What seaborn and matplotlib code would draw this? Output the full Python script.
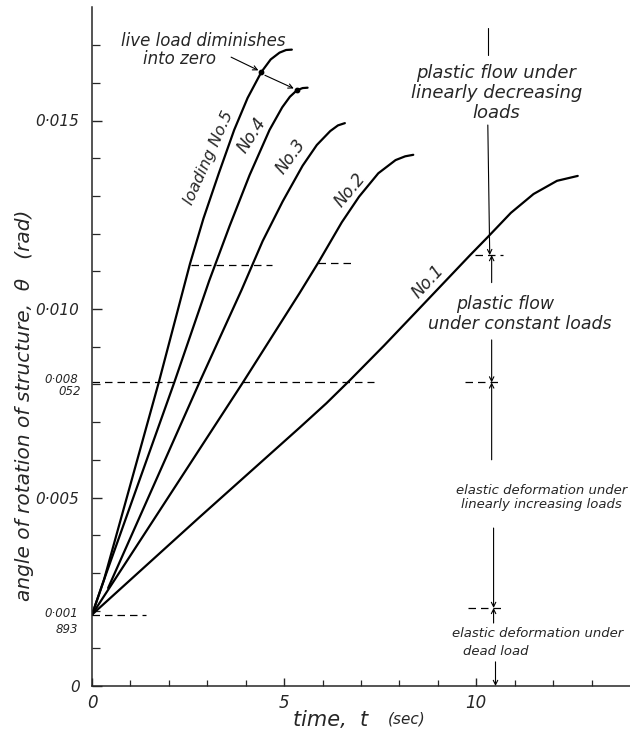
import numpy as np
import pandas as pd
import matplotlib
matplotlib.use("Agg")
import matplotlib.pyplot as plt
import seaborn as sns

# --- data: time t (sec), rotation theta (x 1e-3 rad) ---
no1_t = [0, 2.8, 5.4, 6.1, 6.7, 7.6, 8.46, 9.84, 10.31, 10.9, 11.49, 12.1, 12.64]
no1_theta = [1.893, 4.48, 6.85, 7.5, 8.1, 9.03, 9.95, 11.43, 11.92, 12.55, 13.05, 13.4, 13.53]
no2_t = [0, 3.92, 5.4, 5.9, 6.5, 6.95, 7.45, 7.9, 8.15, 8.36]
no2_theta = [1.893, 8.04, 10.42, 11.25, 12.3, 12.98, 13.6, 13.95, 14.05, 14.09]
no3_t = [0.42, 2.79, 3.89, 4.44, 4.96, 5.48, 5.85, 6.2, 6.4, 6.58]
no3_theta = [2.6, 8.04, 10.5, 11.8, 12.85, 13.8, 14.35, 14.72, 14.87, 14.93]
no4_t = [0, 0.31, 2.14, 3.05, 3.58, 4.1, 4.62, 4.95, 5.15, 5.33, 5.48, 5.61]
no4_theta = [1.893, 2.81, 8.05, 10.75, 12.2, 13.55, 14.75, 15.35, 15.63, 15.8, 15.86, 15.87]
no5_t = [0, 0.31, 1.75, 2.55, 2.9, 3.3, 3.7, 4.05, 4.41, 4.65, 4.88, 5.05, 5.2]
no5_theta = [1.893, 2.81, 8.1, 11.2, 12.4, 13.6, 14.75, 15.6, 16.29, 16.62, 16.8, 16.87, 16.88]

loadings = ["No.1", "No.2", "No.3", "No.4", "No.5"]

# points where the live load has gone to zero (No.5, No.4)
zero_t = [4.41, 5.33]
zero_theta = [16.29, 15.8]

# dashed guide lines: level, start, end
dash_y = [1.893, 8.052, 8.052, 11.17, 11.22, 11.43, 2.07]
dash_x0 = [0, 0, 9.7, 2.58, 5.87, 9.97, 9.79]
dash_x1 = [1.4, 7.35, 10.6, 4.68, 6.8, 10.7, 10.68]

ytick_vals = [0, 5, 10, 15]
ytick_labels = ["0", "0·005", "0·010", "0·015"]
xtick_vals = [0, 5, 10]
xtick_labels = ["0", "5", "10"]

# --- build long table ---
series = [(no1_t, no1_theta), (no2_t, no2_theta), (no3_t, no3_theta),
          (no4_t, no4_theta), (no5_t, no5_theta)]
rows = []
for name, (ts, ths) in zip(loadings, series):
    for t, th in zip(ts, ths):
        rows.append({"t": t, "theta": th * 1e-3, "loading": name})
df = pd.DataFrame(rows)

sns.set_style("ticks")
plt.rcParams["font.family"] = ["DejaVu Sans"]
plt.rcParams["font.style"] = "italic"

fig = plt.figure(figsize=(6.3, 7.32), dpi=100)
ax = fig.add_axes([92 / 630, 46 / 732, 538 / 630, 678.6 / 732])

sns.lineplot(data=df, x="t", y="theta", hue="loading", units="loading",
             estimator=None, sort=False, palette=["black"] * 5,
             legend=False, lw=1.6, ax=ax)

ax.set_xlim(0, 14)
ax.set_ylim(0, 0.018)
sns.despine(ax=ax)
for s in ["left", "bottom"]:
    ax.spines[s].set_linewidth(1.1)

# ticks
ax.set_xticks(xtick_vals)
ax.set_xticklabels(xtick_labels)
ax.set_xticks([i for i in range(1, 14) if i not in xtick_vals], minor=True)
ax.set_yticks([v * 1e-3 for v in ytick_vals])
ax.set_yticklabels(ytick_labels)
ax.set_yticks([i * 1e-3 for i in range(1, 18) if i not in ytick_vals], minor=True)
ax.tick_params(axis="x", which="major", direction="in", length=6, width=1,
               pad=6, labelsize=12)
ax.tick_params(axis="x", which="minor", direction="in", length=4, width=0.9)
ax.tick_params(axis="y", which="major", direction="in", length=7, width=1,
               pad=9, labelsize=11)
ax.tick_params(axis="y", which="minor", direction="in", length=6, width=0.9)
ax.set_xlabel("")
ax.set_ylabel("angle of rotation of structure,  θ   (rad)", fontsize=14.5)
ax.yaxis.set_label_coords(-0.108, 0.414)

# split tick labels for the two special levels
ytr = ax.get_yaxis_transform()
ax.text(-0.026, 1.893e-3 + 0.00003, "0·001", transform=ytr, ha="right",
        va="center", fontsize=8.5)
ax.text(-0.026, 1.893e-3 - 0.00039, "893", transform=ytr, ha="right",
        va="center", fontsize=8.5)
ax.text(-0.026, 8.12e-3, "0·008", transform=ytr, ha="right",
        va="center", fontsize=8.5)
ax.text(-0.02, 7.8e-3, "052", transform=ytr, ha="right",
        va="center", fontsize=8.5)

# x axis label
ax.text(6.2, -0.9e-3, "time,  t", ha="center", va="center", fontsize=15,
        clip_on=False)
ax.text(8.18, -0.88e-3, "(sec)", ha="center", va="center", fontsize=11,
        clip_on=False)

# dashed guides
for y, x0, x1 in zip(dash_y, dash_x0, dash_x1):
    ax.plot([x0, x1], [y * 1e-3, y * 1e-3], color="black", lw=0.9,
            ls=(0, (6, 4)))

# curve labels
ax.text(3.04, 14.0e-3, "loading No.5", rotation=66, ha="center",
        va="center", fontsize=11.5)
ax.text(4.16, 14.6e-3, "No.4", rotation=57, ha="center", va="center",
        fontsize=12)
ax.text(5.17, 14.05e-3, "No.3", rotation=54, ha="center", va="center",
        fontsize=12)
ax.text(6.72, 13.15e-3, "No.2", rotation=50, ha="center", va="center",
        fontsize=12)
ax.text(8.75, 10.72e-3, "No.1", rotation=47, ha="center", va="center",
        fontsize=12)

# live load diminishes into zero
ax.scatter(zero_t, [v * 1e-3 for v in zero_theta], s=10, color="black",
           zorder=5)
ax.text(2.9, 17.12e-3, "live load diminishes", ha="center", va="center",
        fontsize=12)
ax.text(2.27, 16.64e-3, "into zero", ha="center", va="center", fontsize=12)
arr = dict(arrowstyle="->", lw=0.8, color="black", shrinkA=0, shrinkB=0,
           mutation_scale=8)
ax.annotate("", xy=(4.33, 16.33e-3), xytext=(3.62, 16.68e-3), arrowprops=arr)
ax.annotate("", xy=(5.25, 15.85e-3), xytext=(4.5, 16.2e-3), arrowprops=arr)

# stage annotations along the vertical line
ax.plot([10.3, 10.3], [16.74e-3, 17.45e-3], color="black", lw=0.8)
ax.annotate("", xy=(10.35, 11.43e-3), xytext=(10.3, 14.88e-3), arrowprops=arr)
ax.annotate("", xy=(10.4, 11.43e-3), xytext=(10.4, 10.7e-3), arrowprops=arr)
ax.annotate("", xy=(10.4, 8.052e-3), xytext=(10.4, 9.18e-3), arrowprops=arr)
ax.annotate("", xy=(10.4, 8.052e-3), xytext=(10.4, 6.0e-3), arrowprops=arr)
ax.annotate("", xy=(10.45, 2.07e-3), xytext=(10.45, 4.19e-3), arrowprops=arr)
ax.annotate("", xy=(10.45, 2.07e-3), xytext=(10.45, 1.67e-3), arrowprops=arr)
ax.annotate("", xy=(10.5, 0), xytext=(10.5, 0.64e-3), arrowprops=arr)

ax.text(10.52, 15.72e-3, "plastic flow under\nlinearly decreasing\nloads",
        ha="center", va="center", fontsize=13, linespacing=1.15)
ax.text(10.75, 10.13e-3, "plastic flow", ha="center", va="center",
        fontsize=12.5)
ax.text(11.12, 9.6e-3, "under constant loads", ha="center", va="center",
        fontsize=12.5)
ax.text(11.7, 5.0e-3, "elastic deformation under\nlinearly increasing loads",
        ha="center", va="center", fontsize=9.5, linespacing=1.1)
ax.text(11.6, 1.4e-3, "elastic deformation under", ha="center",
        va="center", fontsize=9.5)
ax.text(10.5, 0.92e-3, "dead load", ha="center", va="center", fontsize=9.5)

fig.savefig("out.png", dpi=100)
